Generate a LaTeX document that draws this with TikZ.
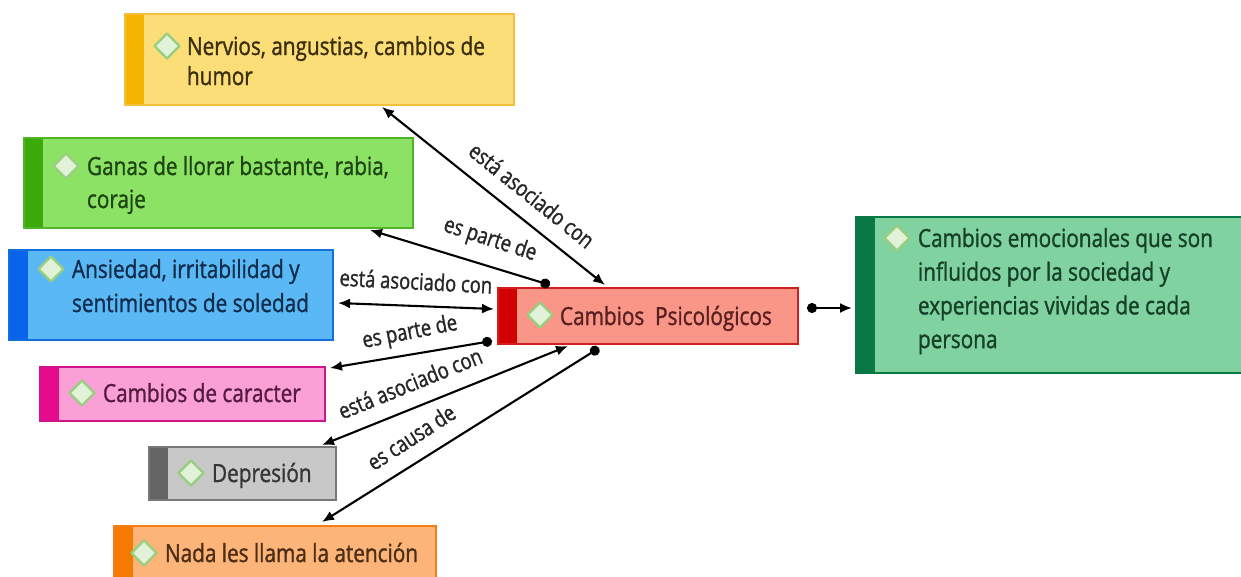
\documentclass[tikz,border=0pt]{standalone}
\usepackage{fontspec}
\setmainfont{Open Sans}[FakeStretch=0.83, FakeBold=1.2]
\newfontfamily\lblfont{Open Sans}[FakeStretch=0.8, FakeBold=1.2]
\usetikzlibrary{arrows.meta}

% box colours: fill / border / side stripe / text
\definecolor{yfill}{HTML}{FCDE78}\definecolor{yline}{HTML}{F5BE3C}\definecolor{ystripe}{HTML}{F5B400}\definecolor{ytext}{HTML}{3C2F10}
\definecolor{gfill}{HTML}{8CE264}\definecolor{gline}{HTML}{50B428}\definecolor{gstripe}{HTML}{3CAA0A}\definecolor{gtext}{HTML}{1E4512}
\definecolor{bfill}{HTML}{5AB9F5}\definecolor{bline}{HTML}{146EDC}\definecolor{bstripe}{HTML}{0A64EB}\definecolor{btext}{HTML}{122D4D}
\definecolor{rfill}{HTML}{FA9687}\definecolor{rline}{HTML}{D21E1E}\definecolor{rstripe}{HTML}{D20000}\definecolor{rtext}{HTML}{5A2020}
\definecolor{efill}{HTML}{80D2A0}\definecolor{eline}{HTML}{0A7846}\definecolor{estripe}{HTML}{0A7846}\definecolor{etext}{HTML}{164028}
\definecolor{pfill}{HTML}{FAA0D7}\definecolor{pline}{HTML}{D2148C}\definecolor{pstripe}{HTML}{E60A8C}\definecolor{ptext}{HTML}{561B40}
\definecolor{kfill}{HTML}{C8C8C8}\definecolor{kline}{HTML}{787878}\definecolor{kstripe}{HTML}{646464}\definecolor{ktext}{HTML}{363636}
\definecolor{ofill}{HTML}{FCB478}\definecolor{oline}{HTML}{F57D14}\definecolor{ostripe}{HTML}{F57800}\definecolor{otext}{HTML}{4C2D16}
\definecolor{gemfill}{HTML}{E2F2D8}\definecolor{gemline}{HTML}{98CE80}

\tikzset{
  conc/.style n args={3}{rectangle, draw=#2, fill=#1, line width=1.4pt,
    anchor=north west, inner sep=0pt, outer sep=0pt,
    path picture={\fill[#3] (path picture bounding box.north west)
      rectangle ([xshift=19pt]path picture bounding box.south west);}},
  ctext/.style={anchor=north west, inner sep=0pt, outer sep=0pt, align=left},
  lbl/.style={font=\lblfont\fontsize{23}{26}\selectfont, text=black!85, inner sep=0pt},
  conn/.style={line width=2.1pt, black},
  tipAA/.style={{Latex[length=12pt,width=10pt]}-{Latex[length=12pt,width=10pt]}},
  tipDA/.style={{Circle[length=10pt]}-{Latex[length=12pt,width=10pt]}},
  gem/.style={draw=gemline, fill=gemfill, line width=2.2pt, line join=round},
}
% first-line strut: text tops sit 20pt above the first baseline
\newcommand\fl{\rule{0pt}{20pt}}
% diamond bullet centred at (#1,#2)
\newcommand\gemat[2]{\path[gem] (#1,#2) +(-12.5,0) -- +(0,-12.5) -- +(12.5,0) -- +(0,12.5) -- cycle;}

\begin{document}
\begin{tikzpicture}[x=1pt, y=-1pt]
\useasboundingbox (0,0) rectangle (1241,576);

% ---- concept boxes ----
\node[conc={yfill}{yline}{ystripe}, minimum width=389pt, minimum height=91pt] (nerv) at (125,14) {};
\node[conc={gfill}{gline}{gstripe}, minimum width=389pt, minimum height=90pt] (ganas) at (24,138) {};
\node[conc={bfill}{bline}{bstripe}, minimum width=324pt, minimum height=90pt] (ansi) at (9,250) {};
\node[conc={rfill}{rline}{rstripe}, minimum width=300pt, minimum height=56pt] (psico) at (498,288) {};
\node[conc={efill}{eline}{estripe}, minimum width=400pt, minimum height=156pt] (emoc) at (856,217) {};
\node[conc={pfill}{pline}{pstripe}, minimum width=285pt, minimum height=54pt] (carac) at (40,367) {};
\node[conc={kfill}{kline}{kstripe}, minimum width=187pt, minimum height=53pt] (depr) at (149,447) {};
\node[conc={ofill}{oline}{ostripe}, minimum width=322pt, minimum height=70pt] (nada) at (114,526) {};

% ---- box texts ----
\node[ctext, text=ytext, font=\fontsize{25}{30}\selectfont] (nerv-t) at (187,35)
  {\fl Nervios, angustias, cambios de\\humor};
\node[ctext, text=gtext, font=\fontsize{25}{33}\selectfont] (ganas-t) at (87,155)
  {\fl Ganas de llorar bastante, rabia,\\coraje};
\node[ctext, text=btext, font=\fontsize{25}{34}\selectfont] (ansi-t) at (72,258)
  {\fl Ansiedad, irritabilidad y\\sentimientos de soledad};
\node[ctext, text=rtext, font=\fontsize{25}{33}\selectfont] (psico-t) at (560,305)
  {\fl Cambios\ \ Psicológicos};
\node[ctext, text=etext, font=\fontsize{25}{33.7}\selectfont] (emoc-t) at (918,227)
  {\fl Cambios emocionales que son\\influidos por la sociedad y\\experiencias vividas de cada\\persona};
\node[ctext, text=ptext, font=\fontsize{25}{33}\selectfont] (carac-t) at (103,382)
  {\fl Cambios de caracter};
\node[ctext, text=ktext, font=\fontsize{25}{33}\selectfont] (depr-t) at (212,462)
  {\fl Depresión};
\node[ctext, text=otext, font=\fontsize{25}{33}\selectfont] (nada-t) at (165,542)
  {\fl Nada les llama la atención};

% ---- diamond bullets ----
\gemat{167}{46}
\gemat{66}{166}
\gemat{51}{269}
\gemat{540}{315}
\gemat{897}{238}
\gemat{82}{393}
\gemat{191}{473}
\gemat{144}{553}

% ---- connectors ----
\draw[conn, tipAA] ([shift={(257,2)}]nerv.south west) -- ([shift={(107,-3)}]psico.north west);
\draw[conn, tipDA] ([shift={(52,-3)}]psico.north west) -- ([shift={(346,2)}]ganas.south west);
\draw[conn, tipAA] ([shift={(5,8)}]ansi.east) -- ([shift={(-4,-7)}]psico.west);
\draw[conn, tipDA] ([shift={(-6,-3)}]psico.south west) -- ([shift={(5,1)}]carac.north east);
\draw[conn, tipAA] ([shift={(-14,-2)}]depr.north east) -- ([shift={(70,2)}]psico.south west);
\draw[conn, tipDA] ([shift={(101,4)}]psico.south west) -- ([shift={(208,-4)}]nada.north west);
\draw[conn, tipDA] ([shift={(9,-8)}]psico.east) -- ([shift={(-4,13)}]emoc.west);

% ---- connector labels ----
\node[lbl, rotate=-38.7] (l1) at (532,195) {está asociado con};
\node[lbl, rotate=-18] (l2) at (490,240) {es parte de};
\node[lbl, rotate=-3] (l3) at (416,281) {está asociado con};
\node[lbl, rotate=11] (l4) at (410,333) {es parte de};
\node[lbl, rotate=22] (l5) at (410,383) {está asociado con};
\node[lbl, rotate=33] (l6) at (411,437) {es causa de};
\end{tikzpicture}
\end{document}
